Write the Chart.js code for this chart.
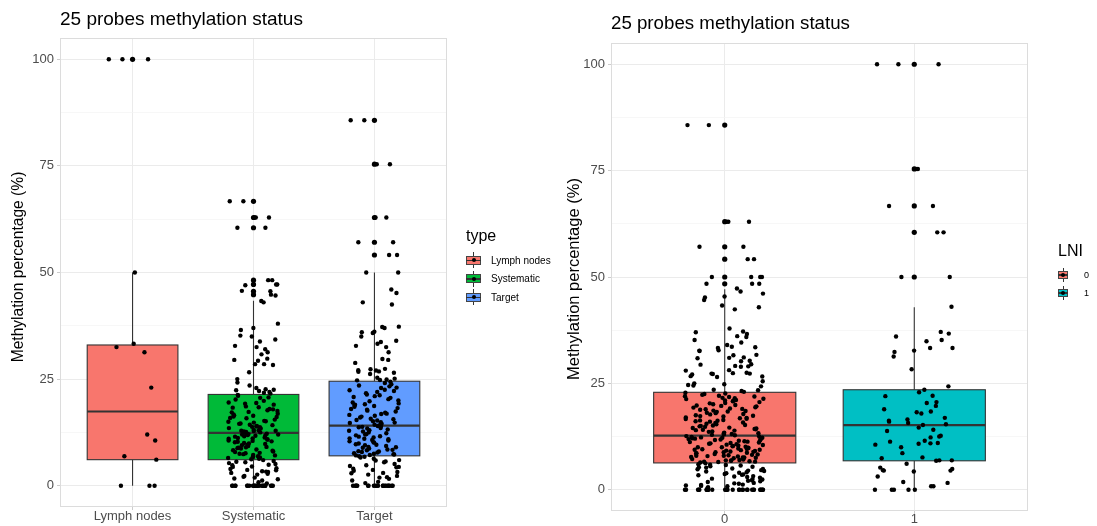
<!DOCTYPE html>
<html lang="en">
<head>
    <meta charset="UTF-8">
    <title>25 probes methylation status</title>
    <script src="https://cdn.jsdelivr.net/npm/chart.js"></script>
    <style>
        body { margin: 0; background: #fff; font-family: "Liberation Sans", Arial, sans-serif; }
        #wrap { position: relative; width: 1097px; height: 526px; overflow: hidden; }
        canvas { position: absolute; top: 0; }
        .title { position: absolute; color: #000; white-space: nowrap; line-height: normal; }
        .legend { position: absolute; color: #000; }
        .legend .head { font-size: 16px; margin-bottom: 6px; }
        .legend .row { display: flex; align-items: center; }
        .key { position: relative; }
        .key div { position: absolute; box-sizing: border-box; }
    </style>
</head>
<body>
<div id="wrap">
    <canvas id="typeChart" width="560" height="526" style="left:0"></canvas>
    <canvas id="lniChart" width="537" height="526" style="left:560px"></canvas>
    <div class="title" style="left:60px; top:8px; font-size:19px;">25 probes methylation status</div>
    <div class="title" style="left:611px; top:12px; font-size:18.7px;">25 probes methylation status</div>
    <div class="legend" id="typeLegend" style="left:466px; top:227px;"></div>
    <div class="legend" id="lniLegend" style="left:1058px; top:242px;"></div>
</div>

<script>
    // categories and ticks
    const typeLabels = ['Lymph nodes', 'Systematic', 'Target'];
    const lniLabels = ['0', '1'];
    const yTicks = [0, 25, 50, 75, 100];

    // box stats: [lower whisker, Q1, median, Q3, upper whisker]
    const lymphBox = [0, 6.1, 17.4, 33.0, 50];
    const systematicBox = [0, 6.1, 12.4, 21.4, 43.4];
    const targetBox = [0, 7.0, 14.1, 24.5, 50];
    const lni0Box = [0, 6.3, 12.7, 22.9, 47.1];
    const lni1Box = [0, 6.8, 15.2, 23.5, 42.9];

    // boxplot outliers
    const lymphOutliers = [100];
    const systematicOutliers = [66.7, 62.9, 60.5, 48.2, 47.2, 45.6, 44.8];
    const targetOutliers = [85.7, 75.4, 62.9, 57.1, 54.1];
    const lni0Outliers = [85.7, 63.0, 57.1, 54.2, 50, 48.4];
    const lni1Outliers = [100, 75.4, 66.7, 60.5, 50];

    // individual probe values (%)
    const lymphValues = [100, 100, 100, 50, 33.3, 31.3, 32.5, 23.0, 12.0, 10.6, 6.9, 6.1, 0, 0, 0];

    const systematicValues = [
        66.7, 66.7, 62.9, 62.9, 62.9, 60.5, 60.5, 48.2, 48.2, 47.2, 47.0, 47.2, 45.6, 44.6, 45.7, 44.8,
        43.3, 43.0, 38.0, 37.0, 36.5, 35.2, 35.0, 34.3, 33.8, 32.5, 32.0, 32.8, 31.3, 30.8, 29.8, 29.5,
        28.5, 28.5, 29.3, 28.3, 26.6, 25.0, 24.2, 23.5, 22.5, 22.2, 22.9, 22.6, 22.4, 22.0, 21.8, 21.6,
        21.1, 20.7, 20.6, 19.9, 19.5, 19.4, 19.2, 18.6, 18.4, 18.3, 18.0, 17.7, 17.5, 17.3, 17.2, 16.9,
        16.5, 16.4, 16.2, 16.1, 15.9, 15.8, 15.5, 15.2, 15.1, 15.0, 14.8, 14.6, 14.5, 14.3, 14.2, 13.9,
        13.8, 13.7, 13.5, 13.4, 13.1, 13.0, 12.9, 12.8, 12.7, 12.6, 12.5, 20.2, 19.0, 17.9, 16.7, 14.0,
        12.9, 21.3, 12.3, 12.2, 12.1, 12.0, 11.9, 11.8, 11.6, 11.5, 11.2, 11.1, 11.0, 10.9, 10.8, 10.6,
        10.5, 10.3, 10.2, 10.0, 9.8, 9.6, 9.5, 9.3, 9.1, 9.0, 8.8, 8.7, 8.5, 8.3, 8.2, 8.0, 7.9, 7.7,
        7.6, 7.4, 7.2, 7.1, 6.9, 6.8, 6.6, 6.5, 6.3, 6.2, 11.7, 10.4, 9.9, 8.9, 7.5, 6.7, 12.0, 11.3,
        6.0, 5.8, 5.5, 5.3, 5.1, 4.8, 4.5, 4.4, 4.1, 3.9, 3.7, 3.6, 3.3, 3.2, 3.0, 2.6, 2.3, 2.1, 1.9,
        1.5, 1.2, 0.8, 0.5, 5.6, 4.9, 3.4, 2.8, 1.7,
        0, 0, 0, 0, 0, 0, 0, 0, 0, 0, 0, 0, 0, 0, 0, 0, 0, 0, 0, 0, 0, 0
    ];

    const targetValues = [
        85.7, 85.7, 75.4, 75.4, 62.9, 62.9, 57.1, 57.1, 54.1, 54.1, 50, 50, 46.0, 45.2, 43.0, 42.5,
        37.2, 37.0, 37.3, 36.1, 36.0, 35.0, 35.8, 34.0, 33.7, 33.3, 32.5, 32.8, 31.3, 29.7, 29.5, 28.8,
        27.4, 27.0, 26.8, 26.5, 26.2, 27.1, 26.7, 27.3, 25.1, 24.8, 25.3, 24.9, 24.7,
        24.4, 24.1, 23.8, 23.5, 23.3, 22.9, 22.5, 22.4, 22.0, 21.7, 21.4, 21.2, 20.8, 20.6, 20.3, 20.0,
        19.8, 19.5, 19.3, 19.0, 18.7, 18.5, 18.2, 18.0, 17.6, 17.4, 17.1, 16.9, 16.6, 16.4, 16.2, 16.0,
        15.7, 15.6, 15.3, 15.1, 14.9, 14.7, 14.5, 14.3, 14.2, 23.0, 21.0, 19.1, 17.8, 16.8, 15.4, 14.8,
        22.2, 18.9, 14.0, 13.8, 13.7, 13.4, 13.2, 13.0, 12.7, 12.5, 12.3, 12.0, 11.8, 11.5, 11.3, 11.1,
        10.9, 10.6, 10.4, 10.2, 9.9, 9.7, 9.5, 9.3, 9.1, 8.9, 8.7, 8.5, 8.3, 8.1, 7.9, 7.8, 7.6, 7.4,
        7.3, 7.1, 13.5, 12.1, 11.0, 10.1, 9.0, 8.0, 7.5, 13.9, 12.9, 11.6, 10.7, 9.6, 8.4, 7.2,
        6.9, 6.6, 6.3, 6.0, 5.7, 5.5, 5.1, 4.8, 4.6, 4.3, 4.0, 3.7, 3.5, 3.2, 2.9, 2.6, 2.3, 2.0, 1.6,
        1.2, 0.9, 0.6, 6.8, 5.9, 4.4, 3.0, 1.9,
        0, 0, 0, 0, 0, 0, 0, 0, 0, 0, 0, 0, 0, 0, 0, 0, 0, 0, 0, 0
    ];

    const lni0Values = [
        85.7, 85.7, 63.0, 63.0, 63.0, 57.1, 57.1, 54.2, 54.2, 50, 50, 50, 50, 48.4, 48.4, 48.4, 47.3,
        46.6, 46.1, 45.4, 45.2, 44.6, 43.3, 42.9, 42.4, 37.9, 37.2, 37.0, 36.6, 36.1, 35.9, 35.2, 34.6,
        34.0, 33.6, 33.5, 33.3, 32.7, 32.6, 32.8, 31.7, 31.6, 31.0, 31.1, 30.9, 30.3, 30.2, 29.5, 29.4,
        29.0, 29.1, 28.9, 28.0, 28.1, 27.3, 27.2, 27.4, 27.1, 27.3, 27.5, 26.6, 26.5, 26.7, 25.5, 25.0,
        24.8, 24.5, 24.3, 24.6, 23.5, 23.4, 23.2, 23.0,
        22.8, 22.6, 22.5, 22.3, 22.1, 21.9, 21.8, 21.6, 21.5, 21.3, 21.1, 21.0, 20.8, 20.6, 20.4, 20.3,
        20.1, 19.9, 19.8, 19.6, 19.4, 19.3, 19.1, 18.9, 18.8, 18.6, 18.5, 18.3, 18.1, 18.0, 17.8, 17.7,
        17.5, 17.3, 17.2, 17.0, 16.9, 16.7, 16.6, 16.4, 16.3, 16.1, 16.0, 15.8, 15.7, 15.5, 15.4, 15.2,
        15.1, 14.9, 14.8, 14.6, 14.5, 14.3, 14.2, 14.0, 13.9, 13.7, 13.6, 13.4, 13.3, 13.1, 13.0, 12.8,
        22.0, 20.9, 19.7, 18.4, 17.4, 16.2, 15.0, 14.1, 13.2, 21.4, 19.0, 16.8, 14.4, 12.9,
        12.6, 12.5, 12.4, 12.2, 12.1, 11.9, 11.9, 11.7, 11.6, 11.4, 11.3, 11.2, 11.0, 10.9, 10.8, 10.6,
        10.5, 10.4, 10.2, 10.1, 10.0, 9.8, 9.7, 9.6, 9.4, 9.3, 9.2, 9.0, 8.9, 8.8, 8.6, 8.5, 8.4, 8.2,
        8.1, 8.0, 7.8, 7.7, 7.6, 7.4, 7.3, 7.2, 7.0, 6.9, 6.8, 6.6, 6.5, 6.4, 12.3, 11.8, 11.1, 10.7,
        10.3, 9.9, 9.5, 9.1, 8.7, 8.3, 7.9, 7.5, 7.1, 6.7, 12.0, 11.5, 10.0, 8.8, 7.6, 6.6, 12.2, 9.4,
        8.0, 6.9,
        6.2, 6.0, 5.9, 5.7, 5.5, 5.3, 5.2, 5.0, 4.8, 4.6, 4.4, 4.3, 4.1, 3.9, 3.7, 3.5, 3.4, 3.2, 3.0,
        2.8, 2.6, 2.4, 2.2, 2.0, 1.8, 1.6, 1.4, 1.2, 1.0, 0.8, 0.6, 0.4, 5.8, 4.9, 4.0, 3.1, 2.1, 1.1,
        5.4, 3.6, 2.5, 0.9, 4.5, 1.5,
        0, 0, 0, 0, 0, 0, 0, 0, 0, 0, 0, 0, 0, 0, 0, 0, 0, 0, 0, 0, 0, 0, 0, 0, 0, 0, 0, 0, 0, 0
    ];

    const lni1Values = [
        100, 100, 100, 75.4, 75.4, 66.7, 66.7, 60.5, 60.5, 50, 50, 43.0, 37.1, 36.7, 36.0, 35.2, 34.9,
        33.3, 33.3, 32.7, 32.4, 31.3, 28.3, 24.3, 23.5, 22.9, 22.1, 22.0, 20.6, 20.4, 19.7, 18.9, 18.4,
        18.2, 17.9, 16.9, 16.5, 16.2, 16.0, 15.7, 15.4, 15.2, 14.6, 14.1, 13.8, 12.5, 12.3, 12.7, 11.3,
        11.0, 11.5, 10.9, 10.6, 10.8, 10.0, 8.6, 7.6, 7.4, 6.9, 6.8, 6.9, 6.1, 5.2, 4.9, 4.5, 4.3, 4.6,
        4.5, 3.1, 1.8, 1.6, 0.8, 0.8, 0, 0, 0, 0, 0
    ];

    const typeColors = ['#F8766D', '#00BA38', '#619CFF'];
    const lniColors = ['#F8766D', '#00BFC4'];

    // fixed (non-random) spread of points around the category centre
    function jitter(i) {
        const k = i + 1;
        return ((k * k * 0.6180339887 + k * 0.4142135) % 1 - 0.5) * 0.42;
    }

    function makePanel(canvasId, labels, groups, layout) {
        const datasets = [];
        groups.forEach((g, gi) => {
            datasets.push({
                data: g.outliers.map(v => ({ x: gi + 1, y: v })),
                backgroundColor: '#000', borderWidth: 0, pointRadius: 2.6
            });
        });
        groups.forEach((g, gi) => {
            datasets.push({
                data: g.values.map((v, i) => ({ x: gi + 1 + jitter(i), y: v })),
                backgroundColor: '#000', borderWidth: 0, pointRadius: 2.2
            });
        });

        const boxPlugin = {
            id: 'boxes',
            beforeDatasetsDraw(chart) {
                const { ctx, scales: { x, y } } = chart;
                ctx.save();
                groups.forEach((g, gi) => {
                    const cx = x.getPixelForValue(gi + 1);
                    const half = x.getPixelForValue(gi + 1.375) - cx;
                    const [lo, q1, med, q3, hi] = g.box.map(v => y.getPixelForValue(v));
                    ctx.strokeStyle = '#333333';
                    ctx.lineWidth = 1.1;
                    ctx.beginPath();
                    ctx.moveTo(cx, lo); ctx.lineTo(cx, q1);
                    ctx.moveTo(cx, q3); ctx.lineTo(cx, hi);
                    ctx.stroke();
                    ctx.fillStyle = g.color;
                    ctx.fillRect(cx - half, q3, half * 2, q1 - q3);
                    ctx.strokeRect(cx - half, q3, half * 2, q1 - q3);
                    ctx.lineWidth = 2.2;
                    ctx.beginPath();
                    ctx.moveTo(cx - half, med); ctx.lineTo(cx + half, med);
                    ctx.stroke();
                });
                ctx.restore();
            },
            afterDraw(chart) {
                const { ctx, chartArea: a } = chart;
                ctx.save();
                ctx.strokeStyle = '#dcdcdc';
                ctx.lineWidth = 1;
                ctx.strokeRect(Math.round(a.left) + 0.5, Math.round(a.top) + 0.5,
                    Math.round(a.right - a.left) - 1, Math.round(a.bottom - a.top) - 1);
                // y axis title
                ctx.translate(layout.titleX, layout.titleY);
                ctx.rotate(-Math.PI / 2);
                ctx.fillStyle = '#000';
                ctx.font = layout.titleSize + 'px "Liberation Sans"';
                ctx.textAlign = 'center';
                ctx.textBaseline = 'middle';
                ctx.fillText('Methylation percentage (%)', 0, 0);
                ctx.restore();
            }
        };

        const isMajor = c => c.tick && yTicks.includes(c.tick.value);

        return new Chart(document.getElementById(canvasId), {
            type: 'scatter',
            data: { datasets },
            options: {
                responsive: false,
                animation: false,
                events: [],
                layout: { padding: { top: layout.top, right: layout.right, left: 0, bottom: 0 } },
                plugins: { legend: { display: false }, tooltip: { enabled: false } },
                scales: {
                    x: {
                        type: 'linear',
                        min: 0.4,
                        max: labels.length + 0.6,
                        afterBuildTicks: axis => { axis.ticks = labels.map((_, i) => ({ value: i + 1 })); },
                        afterFit: axis => { axis.height = layout.xHeight; },
                        ticks: {
                            autoSkip: false, maxRotation: 0, padding: layout.xPad,
                            color: '#4d4d4d', font: { family: 'Liberation Sans', size: 13 },
                            callback: v => labels[v - 1]
                        },
                        grid: { color: '#ebebeb', tickColor: '#cccccc', tickLength: 3 },
                        border: { display: false }
                    },
                    y: {
                        min: -5,
                        max: 105,
                        afterBuildTicks: axis => {
                            axis.ticks = [0, 12.5, 25, 37.5, 50, 62.5, 75, 87.5, 100].map(v => ({ value: v }));
                        },
                        afterFit: axis => { axis.width = layout.yWidth; },
                        ticks: {
                            autoSkip: false, padding: 3,
                            color: '#4d4d4d', font: { family: 'Liberation Sans', size: 13 },
                            callback: v => yTicks.includes(v) ? String(v) : ''
                        },
                        grid: {
                            color: c => isMajor(c) ? '#ebebeb' : '#f4f4f4',
                            lineWidth: c => isMajor(c) ? 1 : 0.7,
                            tickColor: c => isMajor(c) ? '#cccccc' : 'rgba(0,0,0,0)',
                            tickLength: 3
                        },
                        border: { display: false }
                    }
                }
            },
            plugins: [boxPlugin]
        });
    }

    makePanel('typeChart', typeLabels, [
        { values: lymphValues, box: lymphBox, outliers: lymphOutliers, color: typeColors[0] },
        { values: systematicValues, box: systematicBox, outliers: systematicOutliers, color: typeColors[1] },
        { values: targetValues, box: targetBox, outliers: targetOutliers, color: typeColors[2] }
    ], { top: 38, right: 113, xHeight: 19, yWidth: 60, xPad: -1,
         titleX: 18.5, titleY: 267, titleSize: 15.6 });

    makePanel('lniChart', lniLabels, [
        { values: lni0Values, box: lni0Box, outliers: lni0Outliers, color: lniColors[0] },
        { values: lni1Values, box: lni1Box, outliers: lni1Outliers, color: lniColors[1] }
    ], { top: 43, right: 69, xHeight: 15, yWidth: 51, xPad: -2,
         titleX: 14, titleY: 279, titleSize: 16.5 });

    // legends with boxplot keys
    function buildLegend(id, title, labels, colors, keyW, keyH, fontSize, gap) {
        const el = document.getElementById(id);
        const head = document.createElement('div');
        head.className = 'head';
        head.textContent = title;
        el.appendChild(head);
        labels.forEach((lab, i) => {
            const row = document.createElement('div');
            row.className = 'row';
            row.style.height = gap + 'px';
            const key = document.createElement('div');
            key.className = 'key';
            key.style.width = keyW + 'px';
            key.style.height = keyH + 'px';
            key.innerHTML =
                '<div style="left:50%;top:0;bottom:0;width:1px;margin-left:-0.5px;background:#333"></div>' +
                '<div style="left:0;right:0;top:22%;bottom:22%;background:' + colors[i] + ';border:1px solid #444"></div>' +
                '<div style="left:0;right:0;top:50%;height:1.5px;margin-top:-0.75px;background:#333"></div>' +
                '<div style="left:50%;top:50%;width:4px;height:4px;margin:-2px 0 0 -2px;border-radius:50%;background:#000"></div>';
            const text = document.createElement('span');
            text.textContent = lab;
            text.style.fontSize = fontSize + 'px';
            text.style.marginLeft = (keyW > 12 ? 10 : 16) + 'px';
            row.appendChild(key);
            row.appendChild(text);
            el.appendChild(row);
        });
    }

    buildLegend('typeLegend', 'type', typeLabels, typeColors, 15, 16, 10, 18.5);
    buildLegend('lniLegend', 'LNI', lniLabels, lniColors, 10, 14, 9, 18);
</script>
</body>
</html>
